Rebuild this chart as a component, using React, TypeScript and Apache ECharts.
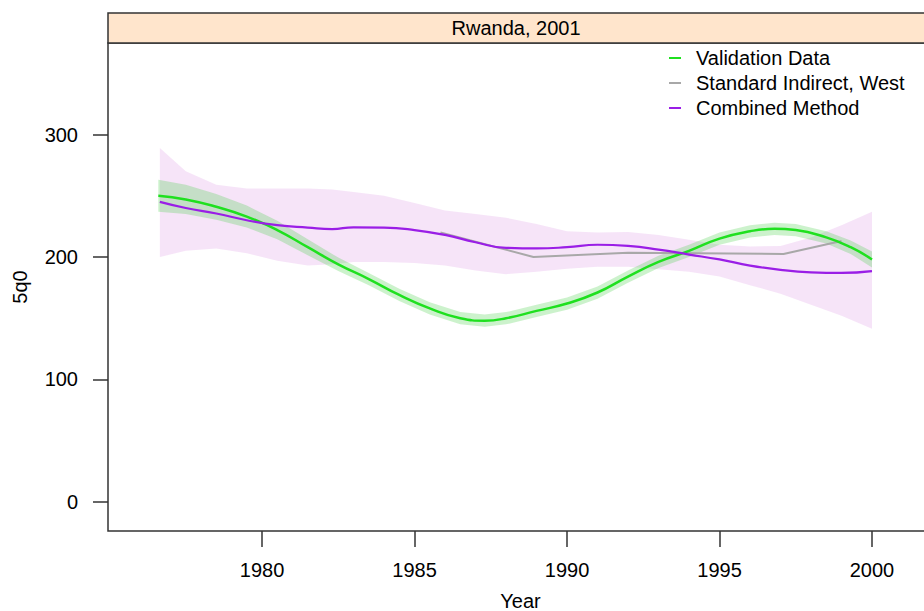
import React, { useEffect, useRef } from "react";
import * as echarts from "echarts";

// ---------- data ----------
const panelTitle = "Rwanda, 2001";
const xTicks = [1980, 1985, 1990, 1995, 2000];
const yTicks = [0, 100, 200, 300];

const validationYears = [1976.6, 1977.5, 1978.5, 1979.5, 1980.5, 1981.5, 1982.5, 1983.5, 1984.5, 1985.5, 1986.5, 1987.3, 1988, 1989, 1990, 1991, 1992, 1993, 1994, 1995, 1996, 1996.8, 1997.5, 1998.5, 1999.3, 2000];
const validationValues = [250, 247, 241, 233, 222, 208, 194, 182, 169, 158, 150, 148, 150, 156, 162, 171, 184, 196, 205, 215, 221, 223, 222, 216, 208, 198];
const validationLower = [237, 235, 230.5, 224, 214.5, 201.5, 188.5, 177, 164, 153, 145, 143, 145, 151, 157, 166, 179, 191, 200, 210, 216, 218, 217, 211, 202.5, 191.5];
const validationUpper = [263, 259, 251.5, 242, 229.5, 214.5, 199.5, 187, 174, 163, 155, 153, 155, 161, 167, 176, 189, 201, 210, 220, 226, 228, 227, 221, 213.5, 204.5];

const indirectYears = [1985.85, 1988.9, 1992, 1997.1, 1999];
const indirectValues = [220, 200, 203.5, 202.5, 213];

const combinedYears = [1976.65, 1977.5, 1978.5, 1979.5, 1980.5, 1981.5, 1982.3, 1983, 1984, 1985, 1986, 1987, 1988, 1989, 1990, 1991, 1992, 1993, 1994, 1995, 1996, 1997, 1998, 1999, 2000];
const combinedValues = [245, 240, 235.5, 230, 226, 224, 222.8, 224.2, 224, 222, 218, 212, 207.5, 207, 208, 210, 209, 206, 202, 198, 193, 189.5, 187.5, 187, 188.5];
const combinedLower = [200, 205, 207, 203, 197, 193, 194, 196, 196, 195, 193, 189, 186, 188, 190.5, 192, 192, 190, 188, 184, 177, 170, 161, 152, 141.5];
const combinedUpper = [289, 270, 259, 256, 256, 256, 255, 253, 250, 244, 238, 235, 232, 227, 221, 220, 220.5, 218, 214, 210, 208.5, 209, 216, 226, 237];

const seriesNames = ["Validation Data", "Standard Indirect, West", "Combined Method"];

// ---------- helpers ----------
const FONT = "'Liberation Sans', Arial, Helvetica, sans-serif";

function bandSeries(years: number[], lower: number[], upper: number[], fill: string, opacity: number, z: number) {
  const data = years.map((y, i) => [y, lower[i], upper[i]]);
  return {
    type: "custom",
    silent: true,
    z,
    data,
    encode: { x: 0, y: [1, 2] },
    renderItem: (params: any, api: any) => {
      if (params.dataIndex !== 0) return null;
      const pts: number[][] = [];
      for (let i = 0; i < data.length; i++) pts.push(api.coord([data[i][0], data[i][2]]));
      for (let i = data.length - 1; i >= 0; i--) pts.push(api.coord([data[i][0], data[i][1]]));
      return {
        type: "polygon",
        shape: { points: pts, smooth: 0 },
        style: { fill, opacity, stroke: "none" },
      };
    },
  };
}

export default function App() {
  const ref = useRef<HTMLDivElement>(null);

  useEffect(() => {
    if (!ref.current) return;
    const chart = echarts.init(ref.current, undefined, { renderer: "svg" });
    const axisColor = "#333";
    chart.setOption({
      animation: false,
      backgroundColor: "#fff",
      textStyle: { fontFamily: FONT },
      grid: {
        left: 108,
        top: 43,
        width: 825,
        height: 488,
        outerBoundsMode: "none",
        containLabel: false,
        show: true,
        borderColor: axisColor,
        borderWidth: 1.5,
        backgroundColor: "transparent",
      },
      legend: {
        data: seriesNames,
        orient: "vertical",
        left: 669,
        top: 48,
        padding: 0,
        itemGap: 5,
        itemWidth: 12,
        itemHeight: 2,
        icon: "rect",
        textStyle: { fontSize: 20, color: "#000", fontFamily: FONT, lineHeight: 20, padding: [0, 0, 0, 10] },
      },
      xAxis: {
        type: "value",
        min: 1974.95,
        max: 2002,
        name: "Year",
        nameLocation: "middle",
        nameGap: 60,
        nameTextStyle: { fontSize: 20, color: "#000", fontFamily: FONT },
        axisLine: { show: false, onZero: false },
        splitLine: { show: false },
        axisTick: { show: true, length: 16, customValues: xTicks, lineStyle: { color: axisColor, width: 1.5 } },
        axisLabel: {
          customValues: xTicks,
          margin: 29,
          fontSize: 20,
          color: "#000",
          fontFamily: FONT,
          formatter: (v: number) => String(Math.round(v)),
        },
      },
      yAxis: {
        type: "value",
        min: -23.7,
        max: 374.7,
        name: "5q0",
        nameLocation: "middle",
        nameGap: 78,
        nameTextStyle: { fontSize: 20, color: "#000", fontFamily: FONT },
        axisLine: { show: false, onZero: false },
        splitLine: { show: false },
        axisTick: { show: true, length: 15, customValues: yTicks, lineStyle: { color: axisColor, width: 1.5 } },
        axisLabel: {
          customValues: yTicks,
          margin: 30,
          fontSize: 20,
          color: "#000",
          fontFamily: FONT,
          formatter: (v: number) => String(Math.round(v)),
        },
      },
      graphic: [
        {
          type: "rect",
          z: 100,
          shape: { x: 108, y: 13, width: 830, height: 30 },
          style: { fill: "#ffe5cc", stroke: axisColor, lineWidth: 1.5 },
        },
        {
          type: "text",
          z: 101,
          x: 516,
          y: 28,
          style: { text: panelTitle, fontSize: 20, fill: "#000", fontFamily: FONT, align: "center", verticalAlign: "middle" },
        },
      ],
      series: [
        bandSeries(combinedYears, combinedLower, combinedUpper, "#e6b3ea", 0.35, 1),
        bandSeries(validationYears, validationLower, validationUpper, "#33cc33", 0.25, 2),
        {
          name: "Standard Indirect, West",
          type: "line",
          z: 3,
          data: indirectYears.map((y, i) => [y, indirectValues[i]]),
          showSymbol: false,
          lineStyle: { color: "#a8a8a8", width: 2 },
          itemStyle: { color: "#a8a8a8" },
        },
        {
          name: "Validation Data",
          type: "line",
          z: 4,
          smooth: true,
          data: validationYears.map((y, i) => [y, validationValues[i]]),
          showSymbol: false,
          lineStyle: { color: "#1fe01f", width: 2.5 },
          itemStyle: { color: "#1fe01f" },
        },
        {
          name: "Combined Method",
          type: "line",
          z: 5,
          smooth: true,
          data: combinedYears.map((y, i) => [y, combinedValues[i]]),
          showSymbol: false,
          lineStyle: { color: "#9a1ee6", width: 2.2 },
          itemStyle: { color: "#9a1ee6" },
        },
      ],
    });
    return () => chart.dispose();
  }, []);

  return (
    <div
      ref={ref}
      style={{ position: "fixed", left: 0, top: 0, width: 924, height: 611, background: "#fff" }}
    />
  );
}
